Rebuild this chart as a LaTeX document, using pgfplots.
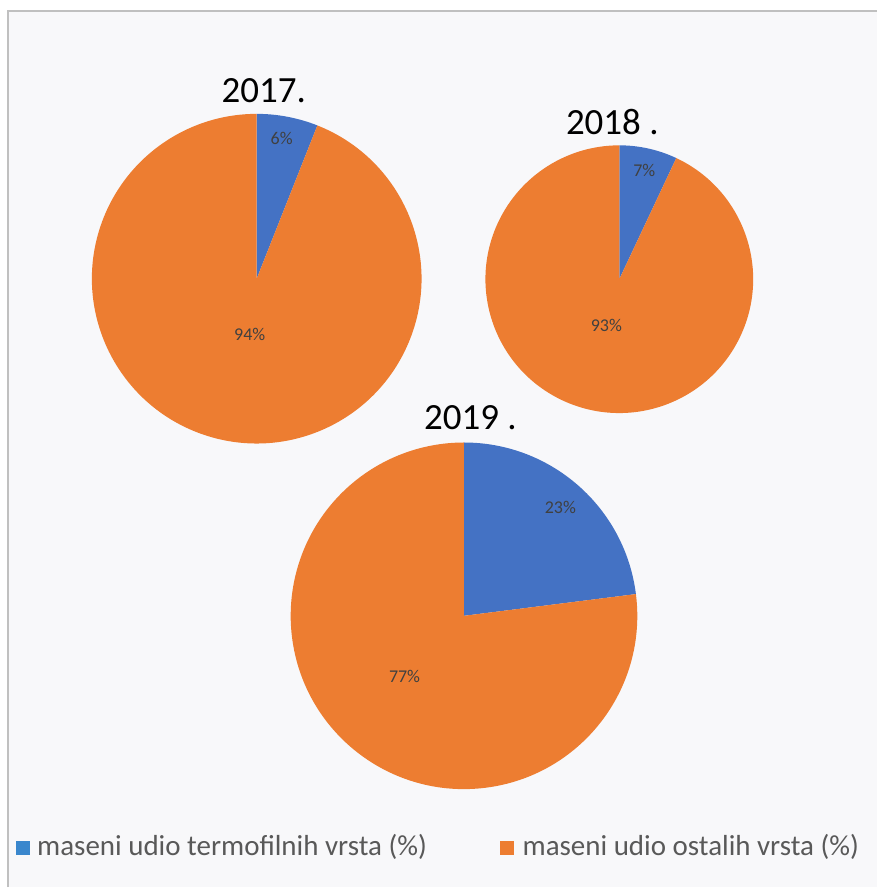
\documentclass[border=0pt]{standalone}
\usepackage{pgfplots}
\pgfplotsset{compat=1.18}
\usepackage{fontspec}
\setmainfont{Carlito}
\definecolor{pblue}{HTML}{4472C4}
\definecolor{porange}{HTML}{ED7D31}
\definecolor{bgc}{HTML}{F8F8FA}
\definecolor{framec}{HTML}{C0C0C0}
\definecolor{lblc}{HTML}{404040}
\definecolor{legc}{HTML}{595959}
% #1 cx, #2 cy, #3 radius, #4 share of the blue (first) slice in %
\newcommand{\pie}[4]{%
  \fill[pblue] (axis cs:#1,#2) -- ++(90:#3pt) arc[start angle=90, end angle={90-3.6*#4}, radius=#3pt] -- cycle;
  \fill[porange] (axis cs:#1,#2) -- ++({90-3.6*#4}:#3pt) arc[start angle={90-3.6*#4}, end angle=-270, radius=#3pt] -- cycle;
}
\begin{document}
\begin{tikzpicture}
\begin{axis}[
  x=1pt, y=1pt,
  xmin=0, xmax=878, ymin=0, ymax=888,
  hide axis, clip=false,
]
\fill[white] (axis cs:0,0) rectangle (axis cs:878,888);
\fill[bgc] (axis cs:8,0) rectangle (axis cs:878,877);
\draw[framec, line width=2pt] (axis cs:8,0) -- (axis cs:8,877) -- (axis cs:878,877);

% pies: 2017 (6 / 94), 2018 (7 / 93), 2019 (23 / 77)
\pie{257}{609}{165}{6}
\pie{620}{608.5}{134}{7}
\pie{464.5}{271.5}{173.5}{23}

% titles
\node[anchor=base, font=\fontsize{37}{37}\selectfont] at (axis cs:264,785) {2017.};
\node[anchor=base, font=\fontsize{37}{37}\selectfont] at (axis cs:613,753) {2018 .};
\node[anchor=base, font=\fontsize{37}{37}\selectfont] at (axis cs:471,458) {2019 .};

% data labels
\begin{scope}[every node/.style={font=\fontsize{18}{18}\selectfont, text=lblc}]
\node at (axis cs:282,749) {6\%};
\node at (axis cs:250,553) {94\%};
\node at (axis cs:645,717) {7\%};
\node at (axis cs:607,562) {93\%};
\node at (axis cs:561,380) {23\%};
\node at (axis cs:405,211) {77\%};
\end{scope}

% legend
\fill[pblue!85!cyan] (axis cs:16,32) rectangle (axis cs:30,46);
\node[anchor=base west, inner sep=0pt, text=legc, font=\fontsize{29}{29}\selectfont] at (axis cs:37,32) {maseni udio termofilnih vrsta (\%)};
\fill[porange] (axis cs:501,32) rectangle (axis cs:515,46);
\node[anchor=base west, inner sep=0pt, text=legc, font=\fontsize{29}{29}\selectfont] at (axis cs:523,32) {maseni udio ostalih vrsta (\%)};
\end{axis}
\end{tikzpicture}
\end{document}
